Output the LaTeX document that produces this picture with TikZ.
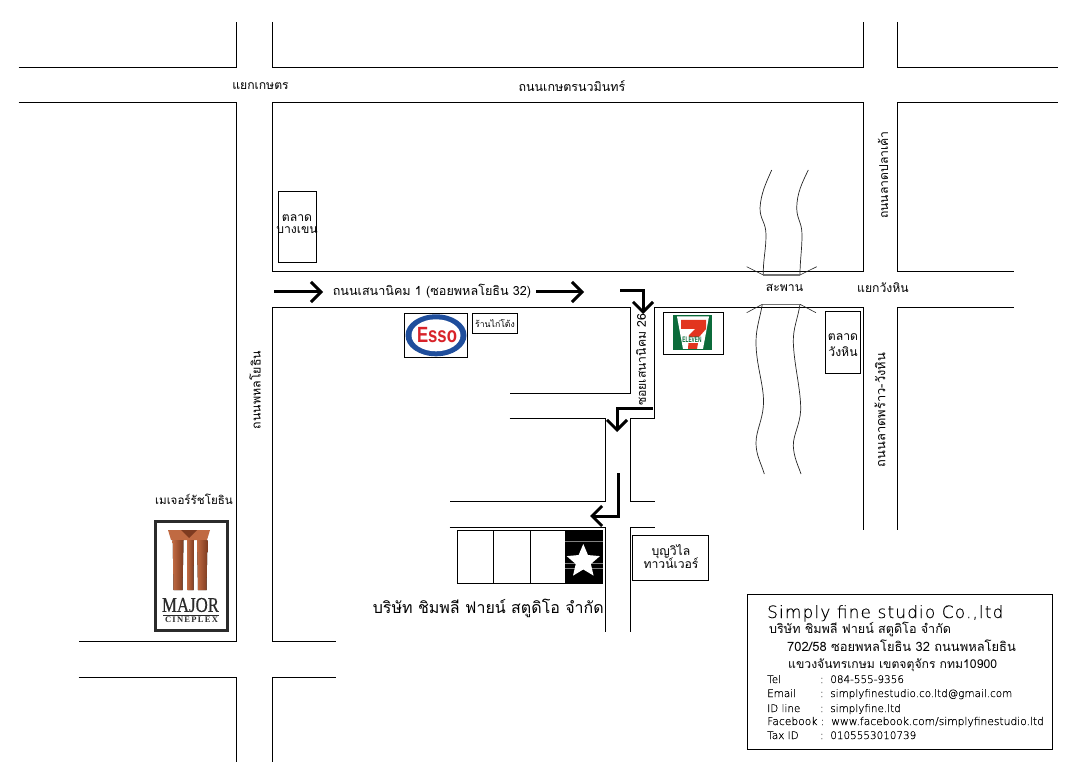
\documentclass[tikz,border=0pt]{standalone}
\usepackage{fontspec}
\newfontfamily\thaifont[Script=Thai]{Loma}
\newfontfamily\thinfont[FakeBold=0.25]{DejaVu Sans ExtraLight}
\newfontfamily\titlefont[LetterSpace=6.5,FakeBold=0.1]{DejaVu Sans ExtraLight}
\newfontfamily\serifbold[LetterSpace=15]{Liberation Serif}
\newfontfamily\serifmain[FakeBold=0.4]{Liberation Serif}
\setmainfont{Liberation Sans}
\usetikzlibrary{arrows.meta,shapes.geometric}
\definecolor{majorframe}{HTML}{2B2B2B}
\definecolor{copper}{HTML}{C06A42}
\definecolor{copperdark}{HTML}{7E3B20}
\definecolor{sevengreen}{HTML}{0B6B3A}
\definecolor{sevenred}{HTML}{E2351F}
\definecolor{essoblue}{HTML}{1F4E9C}
\definecolor{essored}{HTML}{D8232A}
\tikzset{
  x=1pt,y=-1pt,
  road/.style={draw=black,line width=0.95pt,line join=miter,xshift=-0.5pt},
  river/.style={draw=black!85,line width=0.7pt},
  bridge/.style={draw=black!55,line width=1.1pt},
  flare/.style={draw=black!85,line width=0.6pt},
  boxed/.style={draw=black,line width=1pt,fill=white},
  route/.style={draw=black,line width=3pt,line join=miter,-{Straight Barb[length=10pt,width=20pt,line width=3pt]}},
  lab/.style={font=\thaifont\fontsize{12.2}{14}\selectfont,inner sep=0pt,align=center},
  info/.style={font=\thinfont\fontsize{10.4}{12}\selectfont,inner sep=0pt,anchor=base west},
}
\begin{document}
\begin{tikzpicture}
\useasboundingbox (0,0) rectangle (1080,778);
% roads
\draw[road] (19,67)--(237,67)--(237,22);
\draw[road] (273,22)--(273,67)--(864,67)--(864,22);
\draw[road] (898,22)--(898,67)--(1058,67);
\draw[road] (19,102)--(237,102)--(237,641)--(79,641);
\draw[road] (273,102)--(864,102)--(864,271)--(273,271)--cycle;
\draw[road] (1014,271)--(898,271)--(898,102)--(1058,102);
\draw[road] (336,641)--(273,641)--(273,307)--(631,307)--(631,393)--(510,393);
\draw[road] (510,418)--(606,418)--(606,501)--(450,501);
\draw[road] (655,501)--(631,501)--(631,418)--(655,418)--(655,307)--(864,307)--(864,530);
\draw[road] (450,527)--(606,527)--(606,632);
\draw[road] (655,527)--(631,527)--(631,632);
\draw[road] (1014,307)--(898,307)--(898,530);
\draw[road] (79,677)--(237,677)--(237,762);
\draw[road] (336,677)--(273,677)--(273,762);
% river and bridge
\draw[river] (771.7,170) .. controls (766,183) and (761,193) .. (760,208) .. controls (760,220) and (766,222) .. (766,235) .. controls (766,250) and (763,260) .. (763.3,275);
\draw[river] (808.3,170) .. controls (802,183) and (797,193) .. (796.7,208) .. controls (797,220) and (802,222) .. (802,235) .. controls (802,250) and (800,260) .. (800,275);
\draw[river] (762.3,304.3) .. controls (760,318) and (756,328) .. (756,342) .. controls (756,365) and (764,385) .. (763.5,403) .. controls (763,420) and (756,430) .. (756,443) .. controls (756,455) and (761,463) .. (764.3,474);
\draw[river] (800,304.3) .. controls (798,318) and (793,328) .. (793.3,342) .. controls (794,365) and (801,390) .. (800.7,410) .. controls (800,425) and (793,435) .. (793.3,446) .. controls (794,458) and (798,465) .. (801,474);
\draw[bridge] (763.3,275)--(800,275);
\draw[bridge] (762.3,304.3)--(800,304.3);
\draw[flare] (746.7,266.7)--(763.3,275);
\draw[flare] (816.7,266.7)--(800,275);
\draw[flare] (746.7,312.7)--(762.3,304.3);
\draw[flare] (816,312.7)--(800,304.3);
% route arrows
\coordinate (r1a) at (274,292); \coordinate (r1b) at (323,292);
\coordinate (r2a) at (536,292); \coordinate (r2b) at (584,292);
\coordinate (r3a) at (620,291); \coordinate (r3b) at (643,291); \coordinate (r3c) at (643,314);
\coordinate (r4a) at (653,408); \coordinate (r4b) at (617,408); \coordinate (r4c) at (617,432);
\coordinate (r5a) at (618,473); \coordinate (r5b) at (618,516); \coordinate (r5c) at (590,516);
\draw[route] (r1a)--(r1b);
\draw[route] (r2a)--(r2b);
\draw[route] (r3a)--(r3b)--(r3c);
\draw[route] (r4a)--(r4b)--(r4c);
\draw[route] (r5a)--(r5b)--(r5c);
% road labels
\node[lab] (l1) at (260.5,86) {แยกเกษตร};
\node[lab,font=\thaifont\fontsize{12.5}{14}\selectfont] (l2) at (572,86) {ถนนเกษตรนวมินทร์};
\node[lab,font=\thaifont\fontsize{12.6}{14}\selectfont] (l3) at (432,291) {ถนนเสนานิคม 1 (ซอยพหลโยธิน 32)};
\node[lab] (l4) at (784.5,288) {สะพาน};
\node[lab] (l5) at (883,288) {แยกวังหิน};
\node[lab,rotate=90] (l6) at (883,175) {ถนนลาดปลาเค้า};
\node[lab,rotate=90,font=\thaifont\fontsize{12.9}{14}\selectfont] (l7) at (880,410) {ถนนลาดพร้าว-วังหิน};
\node[lab,rotate=90,font=\thaifont\fontsize{12.4}{14}\selectfont] (l8) at (255,390) {ถนนพหลโยธิน};
\node[lab,rotate=90] (l9) at (641,360) {ซอยเสนานิคม 26};
\node[lab,font=\thaifont\fontsize{11.6}{14}\selectfont] (l10) at (194,499) {เมเจอร์รัชโยธิน};
% boxes
\node[boxed,minimum width=38pt,minimum height=71pt,inner sep=0pt] (bk) at (297,227.5) {};
\node[lab] (bkt) at (297,224) {ตลาด\\[-2pt]บางเขน};
\node[boxed,minimum width=34.5pt,minimum height=61.5pt,inner sep=0pt] (wh) at (843,342.5) {};
\node[lab] (wht) at (843,345) {ตลาด\\[2pt]วังหิน};
\node[boxed,minimum width=45.5pt,minimum height=20pt,inner sep=0pt,font=\thaifont\fontsize{8.7}{10}\selectfont] (kt) at (495,323.5) {ร้านไก่โต้ง};
\node[boxed,minimum width=76pt,minimum height=45pt,inner sep=0pt] (bv) at (670.5,558) {};
\node[lab] (bvt) at (671,557) {บุญวิไล\\[-1pt]ทาวน์เวอร์};
% Esso logo
\node[boxed,minimum width=63.5pt,minimum height=44pt,inner sep=0pt] (esso) at (436,335.3) {};
\fill[essoblue] (436,335.3) ellipse [x radius=30.5,y radius=21];
\fill[white] (436,335.3) ellipse [x radius=24.5,y radius=16];
\node[inner sep=0pt,text=essored,font=\bfseries\fontsize{22}{22}\selectfont,xscale=0.76] (essotext) at (437,335) {Esso};
% 7-Eleven logo
\node[boxed,minimum width=60pt,minimum height=42pt,inner sep=0pt] (seven) at (693.3,333.3) {};
\fill[sevengreen] (672.7,314.7)--(711.7,314.7)--(711.7,350)--(672.7,350)--cycle;
\fill[white] (677,316.5)--(709,316.5)--(703,349)--(683,349)--cycle;
\fill[sevenred] (681,320)--(706,320)--(706,329)--(699,337)--(697,349)--(688,349)--(689,335)--(695,329)--(681,329)--cycle;
\fill[white] (682.5,337)--(701,337)--(701,343)--(682.5,343)--cycle;
\node[inner sep=0pt,text=sevengreen,font=\bfseries\fontsize{8}{8}\selectfont,xscale=0.6] (eleven) at (692,340) {ELEVEN};
% Major logo
\node[draw=majorframe,fill=white,line width=3.4pt,minimum width=72pt,minimum height=109pt,inner sep=0pt] (major) at (191.5,576) {};
\fill[copper] (168,530)--(210,530)--(207,540)--(171,540)--cycle;
\fill[copperdark] (181,530)--(197,530)--(189,538)--cycle;
\fill[left color=copper,right color=copperdark] (172.7,540)--(183.5,540)--(182.5,590)--(173.5,590)--cycle;
\fill[left color=copper,right color=copperdark] (187,540)--(194,540)--(193.5,590)--(187.5,590)--cycle;
\fill[left color=copper,right color=copperdark] (197,540)--(207.5,540)--(206.5,590)--(198,590)--cycle;
\node[inner sep=0pt,font=\serifmain\fontsize{21}{21}\selectfont,text=majorframe,xscale=0.8] (majort) at (190.5,605) {MAJOR};
\node[inner sep=0pt,font=\serifbold\bfseries\fontsize{8.5}{9}\selectfont,text=majorframe] (cine) at (191.5,620) {CINEPLEX};
\draw[majorframe,line width=0.7pt] (163,615)--(219,615);
% company block
\node[boxed,minimum width=37pt,minimum height=53pt,inner sep=0pt] (s1) at (475.5,556.8) {};
\node[boxed,minimum width=37pt,minimum height=53pt,inner sep=0pt] (s2) at (512,556.8) {};
\node[boxed,minimum width=37pt,minimum height=53pt,inner sep=0pt] (s3) at (548.5,556.8) {};
\node[draw=black,fill=black,line width=0.5pt,minimum width=37pt,minimum height=53pt,inner sep=0pt] (s4) at (584,556.8) {};
\draw[gray,line width=0.4pt] (s4.west |- 0,541)--(s4.east |- 0,541);
\draw[gray,line width=0.4pt] (s4.west |- 0,563)--(s4.east |- 0,563);
\draw[gray,line width=0.4pt] (s4.west |- 0,568)--(s4.east |- 0,568);
\node[star,star points=5,star point ratio=2.2,fill=white,inner sep=0pt,minimum size=35pt] (starm) at (583.3,561.5) {};
\node[lab,font=\thaifont\fontsize{16}{18}\selectfont,anchor=east] (co) at (604,608) {บริษัท ชิมพลี ฟายน์ สตูดิโอ จำกัด};
% info block
\node[draw=black,line width=1pt,minimum width=305pt,minimum height=154.7pt,inner sep=0pt] (infobox) at (899.8,671.7) {};
\node[info,font=\titlefont\fontsize{17}{19}\selectfont] (i0) at (767,618) {Simply fine studio Co.,ltd};
\node[info,font=\thaifont\fontsize{12.6}{13}\selectfont] (i1) at (769,633) {บริษัท ชิมพลี ฟายน์ สตูดิโอ จำกัด};
\node[info,font=\thaifont\fontsize{12.9}{13}\selectfont] (i2) at (787,651) {702/58 ซอยพหลโยธิน 32 ถนนพหลโยธิน};
\node[info,font=\thaifont\fontsize{12.2}{13}\selectfont] (i3) at (788,668) {แขวงจันทรเกษม เขตจตุจักร กทม10900};
\node[info] (i4) at (767,683) {Tel};
\node[info] (i4v) at (820,683) {:\ \ 084-555-9356};
\node[info] (i5) at (767,697) {Email};
\node[info] (i5v) at (820,697) {:\ \ simplyfinestudio.co.ltd@gmail.com};
\node[info] (i6) at (767,712) {ID line};
\node[info] (i6v) at (820,712) {:\ \ simplyfine.ltd};
\node[info,font=\thinfont\fontsize{10.7}{12}\selectfont] (i7) at (767,725) {Facebook :\ \ www.facebook.com/simplyfinestudio.ltd};
\node[info] (i8) at (767,739) {Tax ID};
\node[info] (i8v) at (820,739) {:\ \ 0105553010739};
\end{tikzpicture}
\end{document}
